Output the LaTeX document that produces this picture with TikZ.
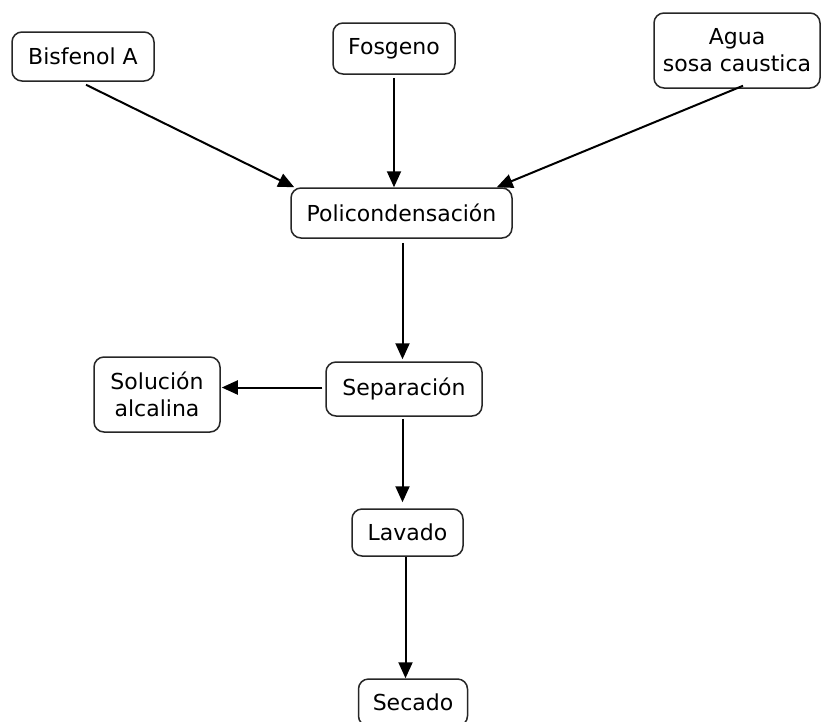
\documentclass[tikz,border=0pt]{standalone}
\usepackage{fontspec}
\setmainfont{DejaVu Sans}
\usetikzlibrary{arrows.meta,calc}
\begin{document}
\begin{tikzpicture}[x=1pt,y=-1pt,
  box/.style={draw=black!85,line width=1.5pt,rounded corners=10pt,fill=white,
    align=center,inner sep=0pt,font=\fontsize{22}{27}\selectfont},
  link/.style={line width=2pt,-{Triangle[length=16pt,width=14pt]}}]
\useasboundingbox (0,0) rectangle (822,721);
\node[box,minimum width=142pt,minimum height=49pt] (bis) at (83,56.5) {Bisfenol A};
\node[box,minimum width=122pt,minimum height=51pt] (fos) at (394,48.5) {Fosgeno};
\node[box,minimum width=166pt,minimum height=75pt] (agua) at (737,50.5) {Agua\\sosa caustica};
\node[box,minimum width=221pt,minimum height=50pt] (pol) at (401.5,213) {Policondensación};
\node[box,minimum width=156pt,minimum height=54pt] (sep) at (404,389) {Separación};
\node[box,minimum width=126pt,minimum height=75pt] (sol) at (157,394.5) {Solución\\alcalina};
\node[box,minimum width=111pt,minimum height=47pt] (lav) at (407.5,532.5) {Lavado};
\node[box,minimum width=109pt,minimum height=47pt] (sec) at (413,702.5) {Secado};
\draw[link] ($(bis.south)+(3,3)$) -- ($(pol.north west)+(4,0)$);
\draw[link,shorten <=3pt] (fos.south) -- (fos.south |- pol.north);
\draw[link] ($(agua.south)+(6,-3)$) -- ($(pol.north east)+(-16,0)$);
\draw[link,shorten <=4pt,shorten >=2pt] ($(pol.south)+(1,0)$) -- ($(pol.south |- sep.north)+(1,0)$);
\draw[link,shorten <=3pt] ($(sep.west)+(0,-1.5)$) -- ($(sep.west -| sol.east)+(1,-1.5)$);
\draw[link,shorten <=2pt,shorten >=6pt] ($(sep.south)+(-1.5,0)$) -- ($(sep.south |- lav.north)+(-1.5,0)$);
\draw[link] ($(lav.south)+(-2,0)$) -- ($(lav.south |- sec.north)+(-2,0)$);
\end{tikzpicture}
\end{document}
